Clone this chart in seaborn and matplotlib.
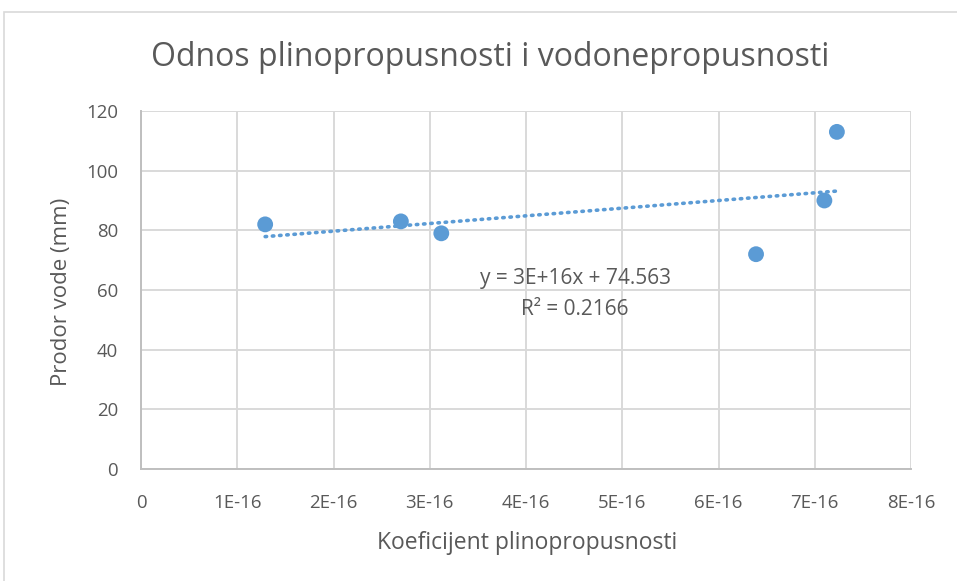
import numpy as np
import pandas as pd
import matplotlib
matplotlib.use("Agg")
import matplotlib.pyplot as plt
from matplotlib.patches import Rectangle
import seaborn as sns

# Gas permeability coefficient vs. water penetration depth
koeficijent = [1.29e-16, 2.70e-16, 3.12e-16, 6.39e-16, 7.10e-16, 7.23e-16]
prodor_mm = [82, 83, 79, 72, 90, 113]
x_ticks = [0, 1e-16, 2e-16, 3e-16, 4e-16, 5e-16, 6e-16, 7e-16, 8e-16]
x_tick_labels = ["0", "1E-16", "2E-16", "3E-16", "4E-16", "5E-16", "6E-16", "7E-16", "8E-16"]
y_ticks = [0, 20, 40, 60, 80, 100, 120]
trend_text = ["y = 3E+16x + 74.563", "R\u00b2 = 0.2166"]

df = pd.DataFrame({"k": koeficijent, "p": prodor_mm})

sns.set_theme(style="white")
plt.rcParams["font.family"] = ["Open Sans", "DejaVu Sans"]

blue = "#5B9BD5"
grey_text = "#595959"
grid_c = "#D9D9D9"

fig = plt.figure(figsize=(9.57, 5.81), dpi=100)
ax = fig.add_axes([141 / 957, 1 - 469 / 581, (911 - 141) / 957, (469 - 111) / 581])

# linear trend (fit on scaled x for numerical stability)
scale = 1e-16
xs = np.array(koeficijent) / scale
slope, intercept = np.polyfit(xs, np.array(prodor_mm), 1)
xl = np.array([xs.min(), xs.max()])
trend = pd.DataFrame({"k": xl * scale, "p": slope * xl + intercept})
sns.lineplot(data=trend, x="k", y="p", ax=ax, color=blue, lw=2.6,
             linestyle=(0, (0.4, 1.6)), dash_capstyle="round", zorder=3)

sns.scatterplot(data=df, x="k", y="p", ax=ax, color=blue, s=130,
                edgecolor="none", zorder=4)

ax.set_xlim(0, 8e-16)
ax.set_ylim(0, 120)
ax.set_xticks(x_ticks)
ax.set_xticklabels(x_tick_labels)
ax.set_yticks(y_ticks)
ax.grid(True, color=grid_c, lw=1.4)
ax.set_axisbelow(True)
for side in ["top", "right"]:
    ax.spines[side].set_visible(False)
for side in ["left", "bottom"]:
    ax.spines[side].set_color("#BFBFBF")
    ax.spines[side].set_linewidth(1.4)
ax.tick_params(axis="both", length=0, labelsize=13.4, colors=grey_text)
ax.tick_params(axis="x", pad=18)
ax.tick_params(axis="y", pad=16.5)
ax.set_xlabel("")
ax.set_ylabel("")

fig.text(527 / 957, 1 - 543 / 581, "Koeficijent plinopropusnosti", ha="center",
         va="center", fontsize=16.5, color=grey_text)
fig.text(62 / 957, 1 - 292 / 581, "Prodor vode (mm)", ha="center", va="center",
         rotation=90, fontsize=16, color=grey_text)
fig.text(490 / 957, 1 - 57 / 581, "Odnos plinopropusnosti i vodonepropusnosti",
         ha="center", va="center", fontsize=23, color=grey_text)

ax.text(4.51e-16, 63.7, trend_text[0], ha="center", va="center", fontsize=15,
        color=grey_text)
ax.text(4.51e-16, 53.6, trend_text[1], ha="center", va="center", fontsize=15,
        color=grey_text)

# chart frame
fig.patches.append(Rectangle((4 / 957, -0.1), 1.2, 1 - 12 / 581 + 0.1,
                             transform=fig.transFigure, fill=False,
                             edgecolor="#D9D9D9", lw=1.2))

fig.savefig("out.png", dpi=100, facecolor="white")
